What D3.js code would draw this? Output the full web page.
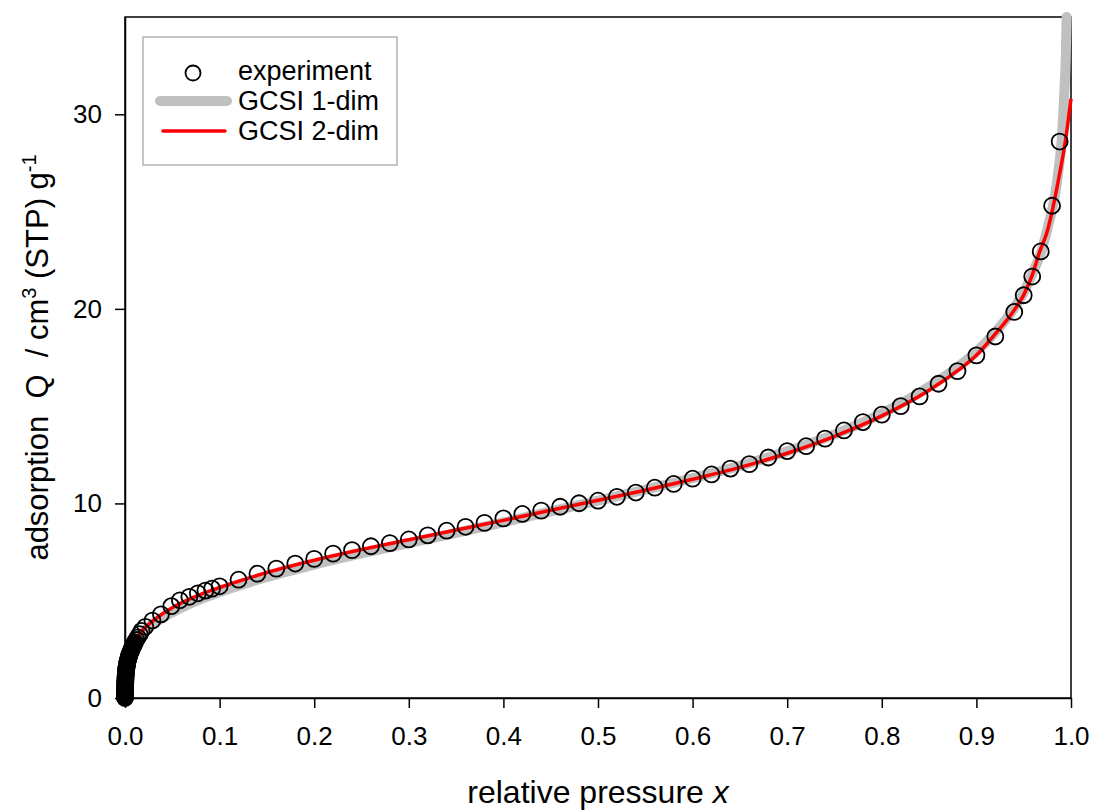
<!DOCTYPE html>
<html>
<head>
<meta charset="utf-8">
<script src="https://cdn.jsdelivr.net/npm/d3@7"></script>
<style>
  html, body { margin: 0; padding: 0; background: #fff; }
  svg { display: block; font-family: "Liberation Sans", Arial, sans-serif; }
</style>
</head>
<body>
<svg id="chart" width="1093" height="811"></svg>
<script>
// Nitrogen-type adsorption isotherm: measured points and two GCSI model fits

// measured relative pressure x and adsorbed amount Q
const expX = [0, 0.00001, 0.00002, 0.00003, 0.00004, 0.00005, 0.00007, 0.00009, 0.00011, 0.00014,
  0.00017, 0.0002, 0.00024, 0.00028, 0.00033, 0.00038, 0.00044, 0.0005, 0.00057, 0.00065,
  0.00074, 0.00084, 0.00095, 0.00107, 0.0012, 0.00135, 0.00151, 0.00168, 0.00187, 0.00208,
  0.00231, 0.00256, 0.00283, 0.00312, 0.00344, 0.00378, 0.00415, 0.00455, 0.00498, 0.00544,
  0.00593, 0.00645, 0.007, 0.0076, 0.00825, 0.00895, 0.0097, 0.0105, 0.0118, 0.0135,
  0.0155, 0.0175, 0.0215, 0.029, 0.038, 0.049, 0.058, 0.068, 0.077, 0.085,
  0.092, 0.10, 0.12, 0.14, 0.16, 0.18, 0.20, 0.22, 0.24, 0.26,
  0.28, 0.30, 0.32, 0.34, 0.36, 0.38, 0.40, 0.42, 0.44, 0.46,
  0.48, 0.50, 0.52, 0.54, 0.56, 0.58, 0.60, 0.62, 0.64, 0.66,
  0.68, 0.70, 0.72, 0.74, 0.76, 0.78, 0.80, 0.82, 0.84, 0.86,
  0.88, 0.90, 0.92, 0.94, 0.95, 0.959, 0.968, 0.98, 0.988];
const expQ = [0, 0.05, 0.10, 0.16, 0.22, 0.28, 0.34, 0.40, 0.46, 0.52,
  0.58, 0.64, 0.70, 0.76, 0.82, 0.88, 0.94, 1.00, 1.06, 1.12,
  1.18, 1.24, 1.30, 1.36, 1.42, 1.48, 1.54, 1.60, 1.66, 1.72,
  1.78, 1.84, 1.90, 1.96, 2.02, 2.08, 2.14, 2.20, 2.26, 2.32,
  2.38, 2.44, 2.50, 2.57, 2.64, 2.71, 2.78, 2.86, 2.98, 3.12,
  3.28, 3.45, 3.66, 3.98, 4.3, 4.72, 5.02, 5.2, 5.38, 5.52,
  5.62, 5.74, 6.08, 6.39, 6.65, 6.91, 7.15, 7.42, 7.6, 7.8,
  7.96, 8.15, 8.36, 8.6, 8.8, 9.0, 9.23, 9.46, 9.63, 9.83,
  10.01, 10.14, 10.34, 10.56, 10.81, 11.0, 11.27, 11.49, 11.79, 12.02,
  12.36, 12.69, 12.94, 13.33, 13.75, 14.18, 14.56, 15.0, 15.5, 16.15,
  16.8, 17.61, 18.58, 19.84, 20.7, 21.66, 22.95, 25.3, 28.6];

// GCSI 1-dim fit
const gcsi1X = [0, 0.0005, 0.001, 0.002, 0.003, 0.005, 0.008, 0.012, 0.02, 0.03,
  0.04, 0.05, 0.06, 0.08, 0.10, 0.12, 0.15, 0.20, 0.25, 0.30,
  0.35, 0.40, 0.45, 0.50, 0.55, 0.60, 0.65, 0.70, 0.75, 0.80,
  0.85, 0.88, 0.90, 0.92, 0.94, 0.95, 0.96, 0.969, 0.976, 0.983,
  0.987, 0.990, 0.9926, 0.9945, 0.9954];
const gcsi1Q = [0, 0.9, 1.28, 1.68, 1.93, 2.28, 2.66, 3.0, 3.45, 3.82,
  4.13, 4.4, 4.65, 5.08, 5.44, 5.77, 6.22, 6.86, 7.43, 7.96,
  8.49, 9.03, 9.59, 10.14, 10.71, 11.3, 11.93, 12.68, 13.55, 14.62,
  16.0, 17.0, 17.8, 18.8, 20.05, 20.85, 21.9, 23.0, 24.3, 25.8,
  27.2, 28.6, 30.8, 33.0, 35.0];

// GCSI 2-dim fit
const gcsi2X = [0, 0.0005, 0.001, 0.002, 0.003, 0.005, 0.008, 0.012, 0.016, 0.02,
  0.03, 0.04, 0.05, 0.06, 0.08, 0.10, 0.12, 0.15, 0.20, 0.25,
  0.30, 0.35, 0.40, 0.45, 0.50, 0.55, 0.60, 0.65, 0.70, 0.75,
  0.80, 0.85, 0.88, 0.90, 0.918, 0.938, 0.95, 0.958, 0.967, 0.975,
  0.98, 0.987, 0.994, 1.0];
const gcsi2Q = [0, 0.98, 1.33, 1.72, 1.97, 2.32, 2.7, 3.05, 3.32, 3.56,
  3.98, 4.34, 4.64, 4.9, 5.33, 5.68, 6.0, 6.45, 7.08, 7.63,
  8.13, 8.63, 9.13, 9.65, 10.16, 10.68, 11.24, 11.85, 12.58, 13.45,
  14.5, 15.82, 16.82, 17.62, 18.6, 19.8, 20.72, 21.6, 22.95, 24.0,
  25.0, 26.7, 28.6, 30.8];

const xTicks = [0, 0.1, 0.2, 0.3, 0.4, 0.5, 0.6, 0.7, 0.8, 0.9, 1.0];
const yTicks = [0, 10, 20, 30];
const legendLabels = ["experiment", "GCSI 1-dim", "GCSI 2-dim"];

const svg = d3.select("#chart");
const plot = { left: 125, right: 1071, top: 17, bottom: 698 };
const FONT = "Liberation Sans, Arial, sans-serif";

const x = d3.scaleLinear().domain([0, 1]).range([plot.left, plot.right]);
const y = d3.scaleLinear().domain([0, 35]).range([plot.bottom, plot.top]);

const zip = (xs, ys) => xs.map((v, i) => [v, ys[i]]);
const line = d3.line().x(d => x(d[0])).y(d => y(d[1])).curve(d3.curveMonotoneX);

// frame
svg.append("rect")
  .attr("x", plot.left).attr("y", plot.top)
  .attr("width", plot.right - plot.left).attr("height", plot.bottom - plot.top)
  .attr("fill", "none").attr("stroke", "#000").attr("stroke-width", 1.5);

// x axis
const gx = svg.append("g")
  .attr("transform", `translate(0,${plot.bottom})`)
  .call(d3.axisBottom(x).tickValues(xTicks).tickFormat(d3.format(".1f"))
    .tickSize(10).tickPadding(19).tickSizeOuter(0));
gx.select(".domain").attr("stroke-width", 1.5);
gx.selectAll(".tick line").attr("stroke-width", 1.5);
gx.selectAll(".tick text").attr("font-size", 26).attr("font-family", FONT).attr("fill", "#000");

// y axis
const gy = svg.append("g")
  .attr("transform", `translate(${plot.left},0)`)
  .call(d3.axisLeft(y).tickValues(yTicks).tickFormat(d3.format("d"))
    .tickSize(10).tickPadding(13).tickSizeOuter(0));
gy.select(".domain").attr("stroke-width", 1.5);
gy.selectAll(".tick line").attr("stroke-width", 1.5);
gy.selectAll(".tick text").attr("font-size", 26).attr("font-family", FONT).attr("fill", "#000");

// model curves
svg.append("path")
  .datum(zip(gcsi1X, gcsi1Q))
  .attr("d", line)
  .attr("fill", "none").attr("stroke", "#c0c0c0")
  .attr("stroke-width", 10).attr("stroke-linecap", "round").attr("stroke-linejoin", "round");

svg.append("path")
  .datum(zip(gcsi2X, gcsi2Q))
  .attr("d", line)
  .attr("fill", "none").attr("stroke", "#ff0000")
  .attr("stroke-width", 3.5).attr("stroke-linejoin", "round");

// measured points
svg.append("g")
  .selectAll("circle")
  .data(zip(expX, expQ))
  .join("circle")
  .attr("cx", d => x(d[0]))
  .attr("cy", d => y(d[1]))
  .attr("r", 8)
  .attr("fill", "none")
  .attr("stroke", "#000")
  .attr("stroke-width", 1.8);

// axis titles
svg.append("text")
  .attr("x", (plot.left + plot.right) / 2)
  .attr("y", 803)
  .attr("text-anchor", "middle")
  .attr("font-size", 32)
  .call(t => {
    t.append("tspan").text("relative pressure ");
    t.append("tspan").attr("font-style", "italic").text("x");
  });

const yTitle = svg.append("text")
  .attr("transform", `translate(48,${(plot.top + plot.bottom) / 2}) rotate(-90)`)
  .attr("text-anchor", "middle")
  .attr("font-size", 31)
  .style("white-space", "pre");
yTitle.append("tspan").text("adsorption  Q  / cm");
yTitle.append("tspan").attr("font-size", 20).attr("dy", -12).text("3");
yTitle.append("tspan").attr("dy", 12).text(" (STP) g");
yTitle.append("tspan").attr("font-size", 20).attr("dy", -12).text("-1");

// legend
const lg = svg.append("g");
lg.append("rect")
  .attr("x", 143).attr("y", 37).attr("width", 254).attr("height", 128)
  .attr("fill", "#fff").attr("stroke", "#b4b4b4").attr("stroke-width", 1.5);
lg.append("circle")
  .attr("cx", 193).attr("cy", 73).attr("r", 7.5)
  .attr("fill", "none").attr("stroke", "#000").attr("stroke-width", 1.8);
lg.append("line")
  .attr("x1", 160).attr("x2", 227).attr("y1", 101).attr("y2", 101)
  .attr("stroke", "#c0c0c0").attr("stroke-width", 10).attr("stroke-linecap", "round");
lg.append("line")
  .attr("x1", 163).attr("x2", 225).attr("y1", 131).attr("y2", 131)
  .attr("stroke", "#ff0000").attr("stroke-width", 3.5).attr("stroke-linecap", "round");
const legendY = [80, 110, 140];
lg.selectAll("text.lab")
  .data(legendLabels)
  .join("text")
  .attr("class", "lab")
  .attr("x", 238)
  .attr("y", (d, i) => legendY[i])
  .attr("font-size", 27)
  .text(d => d);
</script>
</body>
</html>
